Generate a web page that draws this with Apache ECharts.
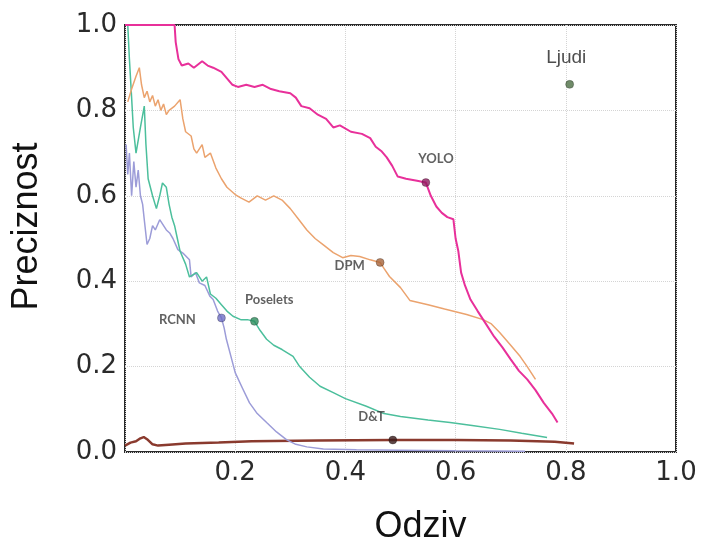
<!DOCTYPE html>
<html>
<head>
<meta charset="utf-8">
<script src="https://cdn.jsdelivr.net/npm/echarts@6/dist/echarts.min.js"></script>
<style>
html,body{margin:0;padding:0;background:#fff;}
#chart{width:703px;height:541px;}
</style>
</head>
<body>
<div id="chart"></div>
<script>
// Precision-recall curves: [recall, precision]
const yolo = [[0.0,1.0],[0.09,1.0],[0.092,0.96],[0.097,0.92],[0.103,0.905],[0.115,0.91],[0.125,0.9],[0.14,0.915],[0.15,0.905],[0.16,0.9],[0.175,0.89],[0.185,0.875],[0.195,0.86],[0.205,0.855],[0.22,0.86],[0.235,0.855],[0.25,0.86],[0.265,0.85],[0.28,0.845],[0.3,0.84],[0.31,0.83],[0.32,0.81],[0.335,0.805],[0.35,0.79],[0.365,0.78],[0.378,0.76],[0.39,0.765],[0.41,0.75],[0.43,0.745],[0.445,0.735],[0.455,0.715],[0.465,0.705],[0.475,0.69],[0.485,0.67],[0.495,0.645],[0.51,0.64],[0.53,0.635],[0.546,0.631],[0.555,0.6],[0.565,0.575],[0.575,0.56],[0.585,0.55],[0.596,0.545],[0.6,0.5],[0.605,0.47],[0.61,0.42],[0.617,0.39],[0.627,0.357],[0.64,0.33],[0.655,0.3],[0.67,0.27],[0.685,0.245],[0.7,0.217],[0.715,0.19],[0.73,0.17],[0.745,0.145],[0.76,0.115],[0.775,0.09],[0.785,0.069]];
const dpm = [[0.005,0.82],[0.012,0.85],[0.02,0.88],[0.026,0.9],[0.03,0.86],[0.035,0.83],[0.04,0.845],[0.045,0.82],[0.05,0.835],[0.055,0.81],[0.06,0.825],[0.065,0.8],[0.07,0.815],[0.075,0.79],[0.08,0.8],[0.09,0.81],[0.1,0.825],[0.105,0.78],[0.11,0.75],[0.12,0.74],[0.125,0.71],[0.13,0.7],[0.14,0.72],[0.145,0.69],[0.155,0.7],[0.165,0.665],[0.175,0.64],[0.185,0.62],[0.2,0.603],[0.21,0.595],[0.225,0.585],[0.24,0.6],[0.255,0.59],[0.27,0.6],[0.285,0.59],[0.3,0.57],[0.315,0.545],[0.33,0.52],[0.345,0.5],[0.36,0.485],[0.378,0.467],[0.395,0.455],[0.41,0.46],[0.426,0.458],[0.445,0.45],[0.463,0.444],[0.47,0.43],[0.48,0.411],[0.5,0.385],[0.517,0.355],[0.55,0.345],[0.58,0.335],[0.62,0.322],[0.65,0.31],[0.665,0.3],[0.68,0.28],[0.7,0.25],[0.717,0.224],[0.73,0.2],[0.745,0.17]];
const poselets = [[0.005,1.0],[0.008,0.92],[0.012,0.83],[0.015,0.76],[0.02,0.7],[0.028,0.76],[0.035,0.81],[0.038,0.72],[0.042,0.64],[0.05,0.6],[0.057,0.57],[0.063,0.6],[0.068,0.63],[0.075,0.62],[0.08,0.58],[0.085,0.55],[0.09,0.53],[0.095,0.5],[0.1,0.47],[0.11,0.44],[0.117,0.41],[0.13,0.42],[0.14,0.4],[0.148,0.41],[0.155,0.37],[0.165,0.36],[0.175,0.345],[0.185,0.33],[0.196,0.318],[0.21,0.31],[0.222,0.31],[0.235,0.306],[0.245,0.285],[0.257,0.264],[0.27,0.25],[0.285,0.24],[0.305,0.224],[0.317,0.2],[0.335,0.175],[0.354,0.154],[0.378,0.139],[0.4,0.125],[0.438,0.107],[0.47,0.09],[0.5,0.083],[0.55,0.075],[0.59,0.069],[0.63,0.062],[0.68,0.053],[0.72,0.044],[0.766,0.034]];
const rcnn = [[0.002,0.72],[0.005,0.65],[0.008,0.7],[0.012,0.6],[0.016,0.68],[0.02,0.62],[0.024,0.66],[0.028,0.6],[0.032,0.58],[0.035,0.544],[0.04,0.486],[0.045,0.5],[0.05,0.53],[0.055,0.52],[0.063,0.544],[0.07,0.53],[0.075,0.52],[0.081,0.513],[0.087,0.5],[0.096,0.474],[0.105,0.466],[0.117,0.45],[0.12,0.41],[0.128,0.42],[0.135,0.396],[0.145,0.39],[0.154,0.365],[0.16,0.357],[0.168,0.33],[0.175,0.314],[0.18,0.29],[0.184,0.264],[0.192,0.225],[0.2,0.186],[0.213,0.15],[0.226,0.115],[0.24,0.09],[0.257,0.069],[0.275,0.047],[0.293,0.029],[0.31,0.018],[0.33,0.012],[0.36,0.007],[0.42,0.005],[0.5,0.004],[0.6,0.003],[0.726,0.002]];
const dt = [[0.0,0.015],[0.01,0.022],[0.02,0.025],[0.028,0.032],[0.034,0.035],[0.04,0.03],[0.05,0.018],[0.06,0.015],[0.08,0.017],[0.11,0.02],[0.17,0.022],[0.23,0.025],[0.35,0.027],[0.486,0.028],[0.6,0.028],[0.7,0.027],[0.78,0.024],[0.815,0.02]];

// Labelled operating points
const pointNames = ['YOLO','DPM','Poselets','RCNN','D&T','Ljudi'];
const pointX = [0.546, 0.463, 0.235, 0.175, 0.486, 0.807];
const pointY = [0.631, 0.444, 0.306, 0.314, 0.028, 0.861];

// Axis ticks
const xTicks = [0.2, 0.4, 0.6, 0.8, 1.0];
const yTicks = [0.0, 0.2, 0.4, 0.6, 0.8, 1.0];

const lineColors = {YOLO:'#e8309a', DPM:'#eba36e', Poselets:'#4cbf9c', RCNN:'#9c9cd8', 'D&T':'#8a3a2e'};
const markerColors = ['#8e1a5e','#a8643a','#2c8c5c','#6e6ec4','#3a1c1c','#4c6e44'];
const labelPos = [[-3,-26],[-41,1],[-5,-24],[-58,0],[-30,-25],[-19,-32]];

const chart = echarts.init(document.getElementById('chart'));

function lineSeries(name, data, width) {
  return {
    name: name, type: 'line', data: data, showSymbol: false, symbol: 'none',
    lineStyle: {color: lineColors[name], width: width}, z: 3, animation: false
  };
}

const pts = pointNames.map((n, i) => ({
  value: [pointX[i], pointY[i]],
  itemStyle: {color: markerColors[i]},
  label: {
    show: true, formatter: n, position: labelPos[i],
    fontFamily: n === 'Ljudi' ? 'Liberation Sans' : 'Lato',
    fontWeight: n === 'Ljudi' ? 'normal' : 'bold',
    fontSize: n === 'Ljudi' ? 19 : 13,
    color: n === 'Ljudi' ? '#222' : '#3a3a3a'
  }
}));

chart.setOption({
  animation: false,
  backgroundColor: '#fff',
  grid: {left: 125, right: 27, top: 25, bottom: 89, outerBoundsMode: 'none', containLabel: false, show: true, borderColor: '#2a2a2a', borderWidth: 2, backgroundColor: 'transparent'},
  xAxis: {
    type: 'value', min: 0, max: 1, interval: 0.2,
    name: 'Odziv', nameLocation: 'middle', nameGap: 57,
    nameTextStyle: {fontFamily: 'Liberation Sans', fontSize: 36, color: '#111', padding: [0,0,0,40]},
    axisLine: {show: false},
    axisTick: {show: false},
    splitLine: {show: true, lineStyle: {color: '#d4d4d4', type: 'dotted', width: 1}},
    axisLabel: {
      fontFamily: 'DejaVu Sans', fontSize: 26, color: '#2a2a2a', margin: 8,
      formatter: v => xTicks.some(t => Math.abs(t - v) < 1e-9) ? v.toFixed(1) : ''
    }
  },
  yAxis: {
    type: 'value', min: 0, max: 1, interval: 0.2,
    name: 'Preciznost', nameLocation: 'middle', nameGap: 80, nameRotate: 90,
    nameTextStyle: {fontFamily: 'Liberation Sans', fontSize: 36, color: '#111', padding: [0,0,0,24]},
    axisLine: {show: false},
    axisTick: {show: false},
    splitLine: {show: true, lineStyle: {color: '#d4d4d4', type: 'dotted', width: 1}},
    axisLabel: {
      fontFamily: 'DejaVu Sans', fontSize: 26, color: '#2a2a2a', margin: 8,
      formatter: v => yTicks.some(t => Math.abs(t - v) < 1e-9) ? v.toFixed(1) : ''
    }
  },
  series: [
    lineSeries('D&T', dt, 2.5),
    lineSeries('RCNN', rcnn, 1.5),
    lineSeries('Poselets', poselets, 1.5),
    lineSeries('DPM', dpm, 1.5),
    lineSeries('YOLO', yolo, 2),
    {
      type: 'scatter', data: pts, symbol: 'circle', symbolSize: 8, z: 5,
      itemStyle: {borderColor: 'rgba(0,0,0,0.3)', borderWidth: 1}
    }
  ]
});
</script>
</body>
</html>
